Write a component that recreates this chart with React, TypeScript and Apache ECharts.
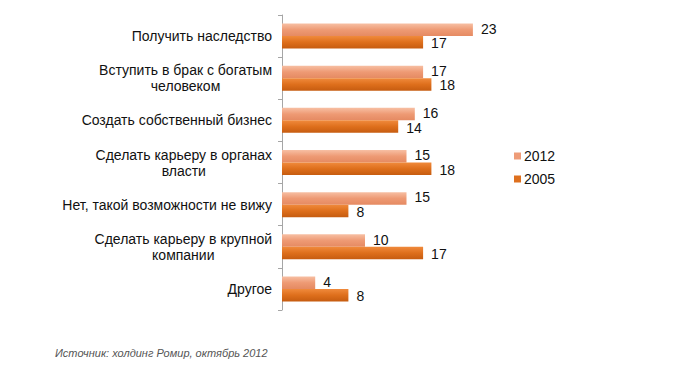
import React, { useEffect, useRef } from "react";
import * as echarts from "echarts";

const categories = [
  "Получить наследство",
  "Вступить в брак с богатым\nчеловеком",
  "Создать собственный бизнес",
  "Сделать карьеру в органах\nвласти",
  "Нет, такой возможности не вижу",
  "Сделать карьеру в крупной\nкомпании",
  "Другое",
];
const values2012 = [23, 17, 16, 15, 15, 10, 4];
const values2005 = [17, 18, 14, 18, 8, 17, 8];
const seriesNames = ["2012", "2005"];
const sourceText = "Источник: холдинг Ромир, октябрь 2012";

export default function App() {
  const ref = useRef<HTMLDivElement>(null);
  useEffect(() => {
    document.body.style.margin = "0";
    const chart = echarts.init(ref.current!, undefined, { renderer: "svg" });
    const grad = (a: string, b: string, c: string) =>
      new echarts.graphic.LinearGradient(0, 0, 0, 1, [
        { offset: 0, color: a },
        { offset: 0.5, color: b },
        { offset: 1, color: c },
      ]);
    const labelStyle = (dy: number) => ({
      show: true,
      position: "right" as const,
      distance: 8,
      offset: [0, dy],
      color: "#111",
      fontSize: 14,
      lineHeight: 12,
      fontFamily: "Liberation Sans, Arial, sans-serif",
    });
    chart.setOption({
      animation: false,
      backgroundColor: "#fff",
      textStyle: { fontFamily: "Liberation Sans, Arial, sans-serif" },
      grid: { left: 282, top: 15, height: 295, width: 207.5 },
      legend: {
        orient: "vertical",
        left: 509,
        top: 144,
        itemWidth: 7,
        itemHeight: 7,
        itemGap: 9,
        icon: "rect",
        textStyle: { fontSize: 14, color: "#111", padding: [0, 0, 0, -2] },
        data: [
          { name: seriesNames[0], itemStyle: { color: "#EE9C78" } },
          { name: seriesNames[1], itemStyle: { color: "#DE701E" } },
        ],
      },
      xAxis: {
        type: "value",
        min: 0,
        max: 25,
        show: false,
      },
      yAxis: {
        type: "category",
        data: categories,
        inverse: true,
        axisLine: { show: true, lineStyle: { color: "#a6a6a6" } },
        axisTick: { show: true, length: 4, lineStyle: { color: "#a6a6a6" } },
        axisLabel: {
          margin: 10,
          fontSize: 14,
          color: "#111",
          lineHeight: 16,
          formatter: (v: string) =>
            v
              .split("\n")
              .map((l) => "{c|" + l + "}")
              .join("\n"),
          rich: { c: { align: "center", fontSize: 14, lineHeight: 16, color: "#111" } },
        },
        splitLine: { show: false },
      },
      series: [
        {
          name: seriesNames[0],
          type: "bar",
          data: values2012,
          barWidth: 12.5,
          barGap: "0%",
          itemStyle: { color: grad("#F7BFA3", "#EE9A74", "#E58A62") },
          label: labelStyle(-1),
        },
        {
          name: seriesNames[1],
          type: "bar",
          data: values2005,
          barWidth: 12.5,
          barGap: "0%",
          itemStyle: { color: grad("#F08A3C", "#DE6F1C", "#C65C10") },
          label: labelStyle(1),
        },
      ],
      graphic: [
        {
          type: "text",
          left: 55,
          top: 347,
          style: {
            text: sourceText,
            fontSize: 11,
            fontStyle: "italic",
            fill: "#555",
            fontFamily: "Liberation Sans, Arial, sans-serif",
          },
        },
      ],
    });
    return () => chart.dispose();
  }, []);
  return <div ref={ref} style={{ width: 675, height: 368 }} />;
}
